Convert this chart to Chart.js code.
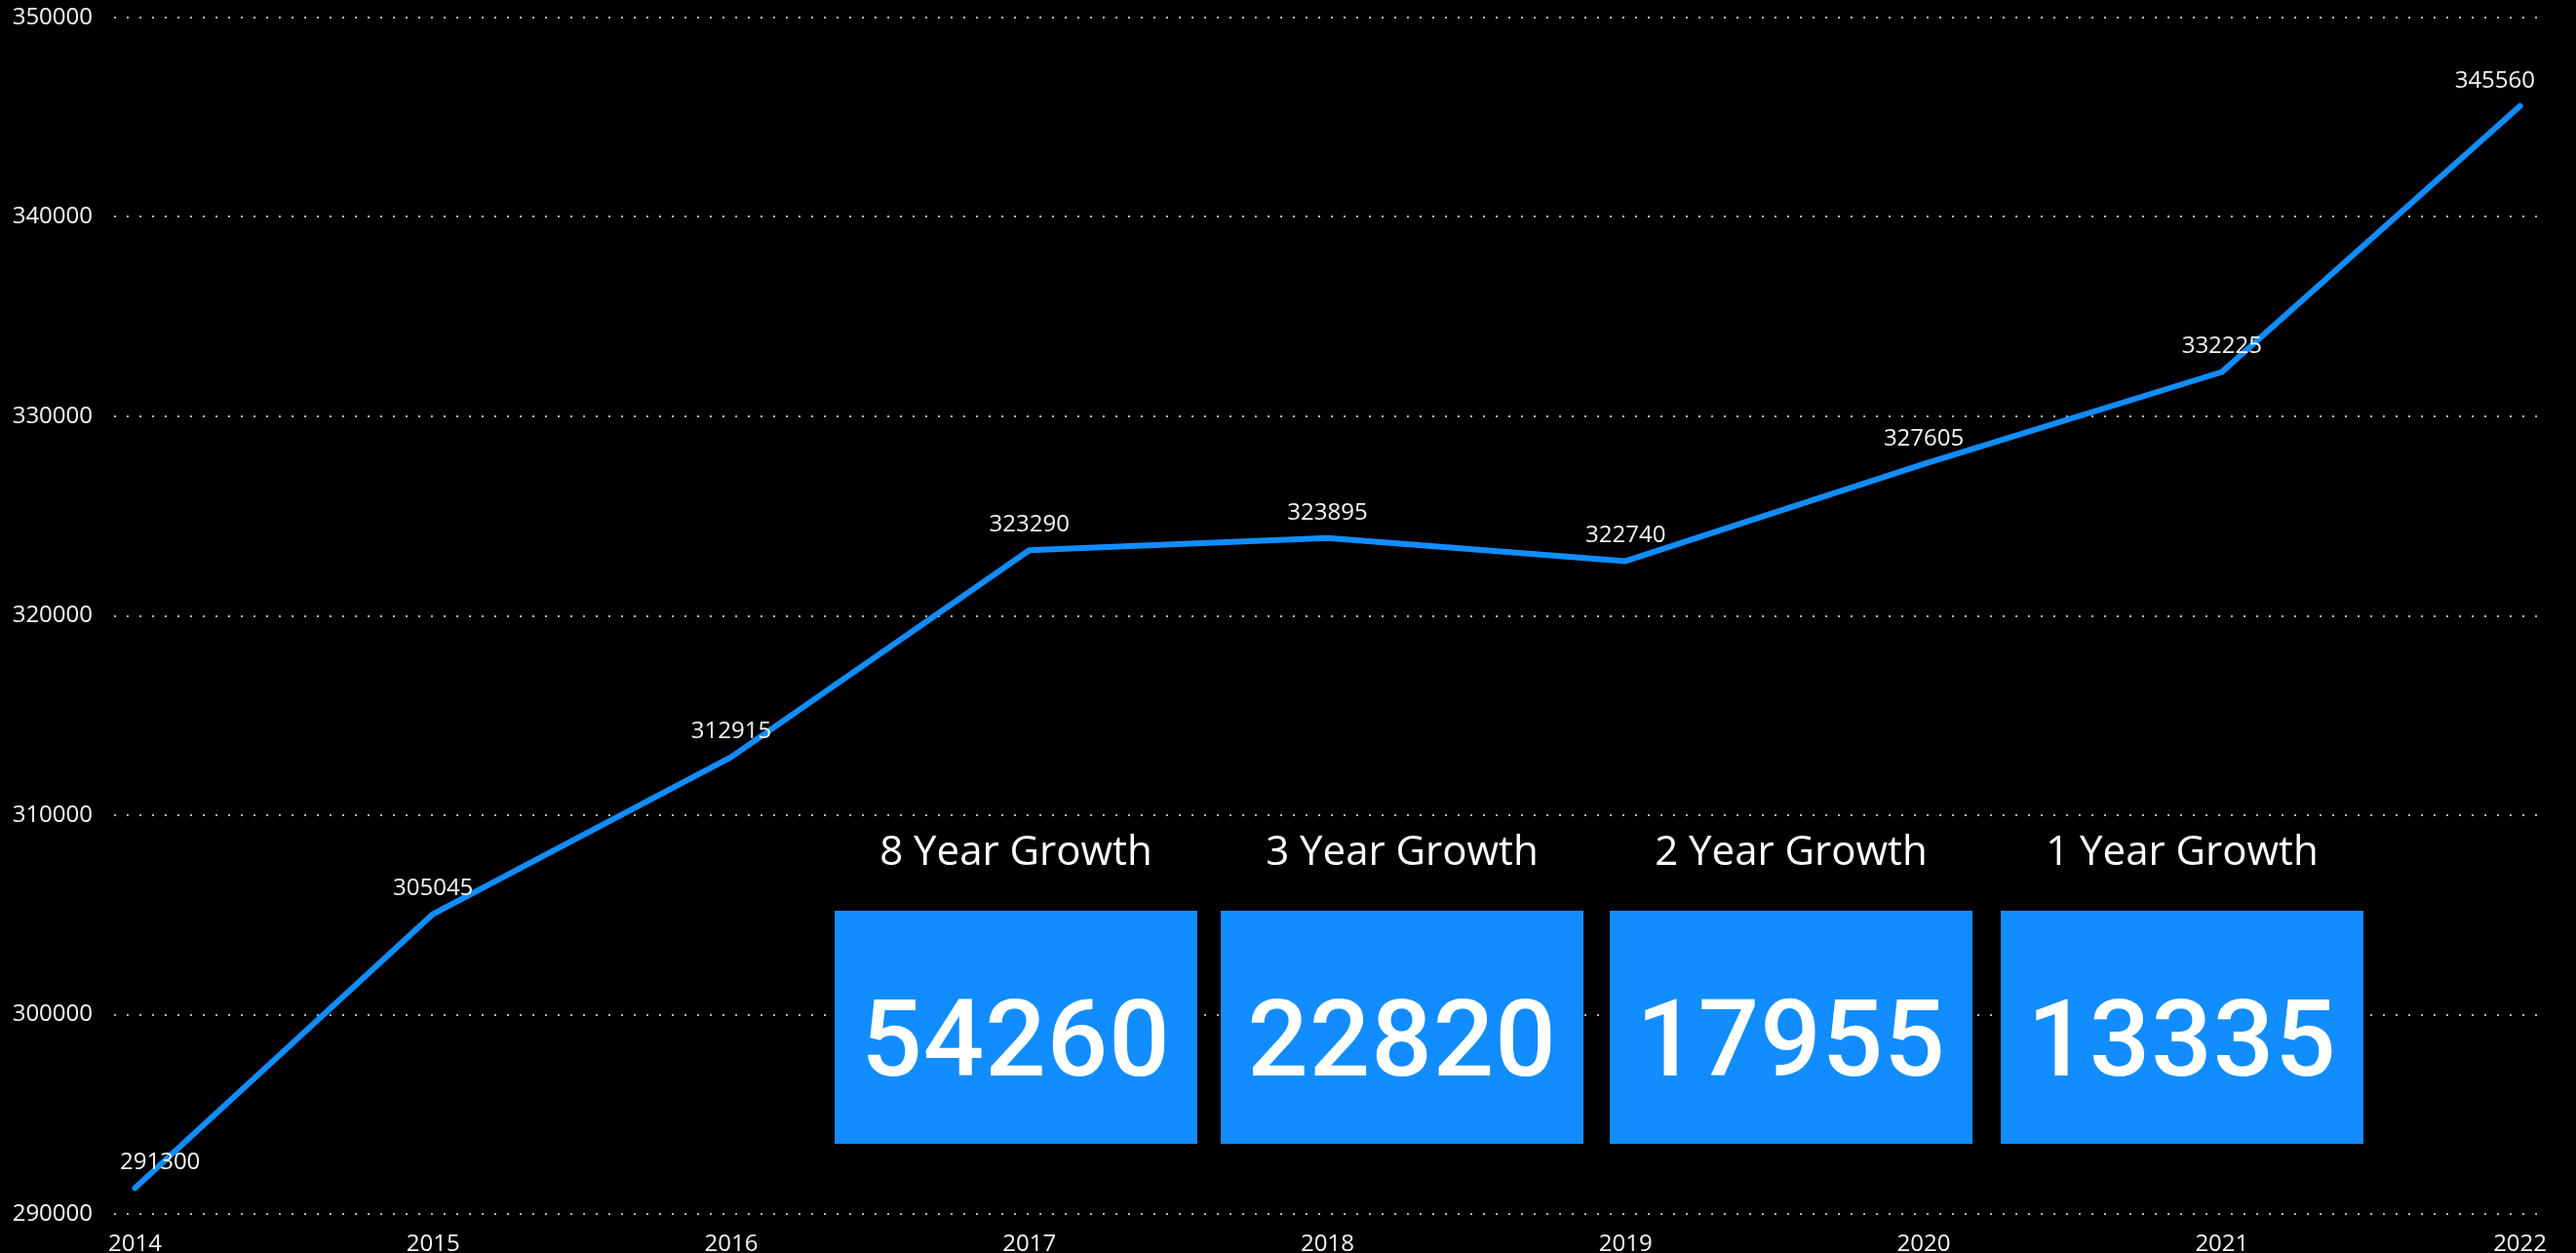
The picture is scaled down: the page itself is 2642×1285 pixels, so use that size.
<!DOCTYPE html>
<html>
<head>
<meta charset="utf-8">
<script src="https://cdn.jsdelivr.net/npm/chart.js@4.4.1/dist/chart.umd.min.js"></script>
<style>
  html, body { margin: 0; padding: 0; background: #000; overflow: hidden; }
  #zone { position: relative; width: 2642px; height: 1285px; }
  #graphique { position: absolute; left: 0; top: 0; }
  .titre {
    position: absolute; top: 845px; width: 372px; text-align: center;
    font-family: 'Open Sans', sans-serif; font-size: 42px; color: #fff; line-height: 52px;
  }
  .carte {
    position: absolute; top: 934px; height: 239px; width: 372px; background: #118DFF;
    display: flex; align-items: center; justify-content: center;
  }
  .carte span {
    font-family: Roboto, sans-serif; font-size: 110px; font-weight: 500; color: #fff;
    letter-spacing: 1px; margin-top: 24px;
  }
</style>
</head>
<body>
<div id="zone">
  <canvas id="graphique" width="2642" height="1285"></canvas>
</div>
<script>
/** Les données du graphique */
const annees = [2014, 2015, 2016, 2017, 2018, 2019, 2020, 2021, 2022];
const valeurs = [291300, 305045, 312915, 323290, 323895, 322740, 327605, 332225, 345560];
const ticksY = [290000, 300000, 310000, 320000, 330000, 340000, 350000];

/** Les cartes de croissance */
const titresCroissance = ['8 Year Growth', '3 Year Growth', '2 Year Growth', '1 Year Growth'];
const valeursCroissance = [54260, 22820, 17955, 13335];
const cartesX = [856, 1252, 1651, 2052];

const bleu = '#118DFF';
const police = "'Open Sans', sans-serif";
const taille = 24;

Chart.defaults.font.family = police;
Chart.defaults.font.size = taille;
Chart.defaults.color = '#f4f4f4';

/** Etiquettes au-dessus des points, bornées à la zone du graphique */
const etiquettes = {
  id: 'etiquettes',
  afterDatasetsDraw(chart) {
    const { ctx, chartArea } = chart;
    const meta = chart.getDatasetMeta(0);
    ctx.save();
    ctx.font = `${taille}px ${police}`;
    ctx.fillStyle = '#f4f4f4';
    ctx.textAlign = 'center';
    ctx.textBaseline = 'middle';
    meta.data.forEach((pt, i) => {
      const txt = String(valeurs[i]);
      const w = ctx.measureText(txt).width;
      let x = pt.x;
      x = Math.max(chartArea.left + 6 + w / 2, Math.min(chartArea.right - 6 - w / 2, x));
      ctx.fillText(txt, x, pt.y - 26);
    });
    ctx.restore();
  }
};

const dessineCourbe = function() {
  const points = annees.map((a, i) => ({ x: a, y: valeurs[i] }));
  const ctx = document.getElementById('graphique').getContext('2d');
  return new Chart(ctx, {
    type: 'line',
    data: {
      datasets: [{
        data: points, borderColor: bleu, borderWidth: 6,
        borderCapStyle: 'round', borderJoinStyle: 'round',
        pointRadius: 0, tension: 0, fill: false
      }]
    },
    options: {
      responsive: false, animation: false,
      layout: { padding: { left: 0, right: 36, top: 18, bottom: 0 } },
      plugins: { legend: { display: false }, tooltip: { enabled: false } },
      scales: {
        x: {
          type: 'linear', min: annees[0] - 0.07, max: annees[annees.length - 1] + 0.07,
          grid: { display: false }, border: { display: false },
          afterBuildTicks: (axis) => { axis.ticks = annees.map(v => ({ value: v })); },
          afterFit: (axis) => {
            axis.height = 40;
            axis.paddingLeft = 0;
            axis.paddingRight = 0;
          },
          ticks: {
            padding: 9, maxRotation: 0, autoSkip: false,
            font: { family: police, size: taille },
            callback: (v) => String(v)
          }
        },
        y: {
          min: ticksY[0], max: ticksY[ticksY.length - 1],
          afterBuildTicks: (axis) => { axis.ticks = ticksY.map(v => ({ value: v })); },
          afterFit: (axis) => {
            axis.width = 117;
            axis.paddingTop = 0;
            axis.paddingBottom = 0;
          },
          border: { display: false, dash: [2, 11] },
          grid: { color: '#b4b4b4', lineWidth: 2, drawTicks: false },
          ticks: {
            padding: 22, autoSkip: false,
            font: { family: police, size: taille },
            callback: (v) => String(v)
          }
        }
      }
    },
    plugins: [etiquettes]
  });
};

/** Construction des cartes */
const dessineCartes = function() {
  const zone = document.getElementById('zone');
  titresCroissance.forEach((t, i) => {
    const titre = document.createElement('div');
    titre.className = 'titre';
    titre.style.left = cartesX[i] + 'px';
    titre.textContent = t;
    zone.appendChild(titre);

    const carte = document.createElement('div');
    carte.className = 'carte';
    carte.style.left = cartesX[i] + 'px';
    carte.innerHTML = `<span>${valeursCroissance[i]}</span>`;
    zone.appendChild(carte);
  });
};

dessineCourbe();
dessineCartes();
</script>
</body>
</html>
